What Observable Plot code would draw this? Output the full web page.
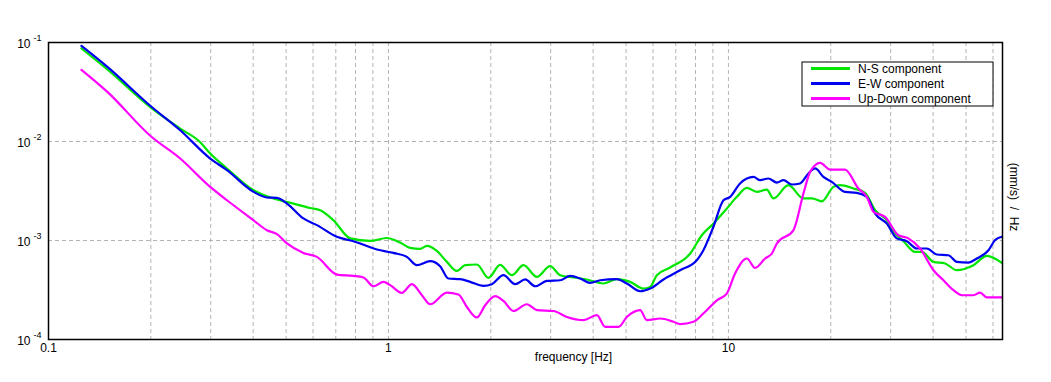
<!DOCTYPE html>
<html><head><meta charset="utf-8">
<script src="https://cdn.jsdelivr.net/npm/d3@7"></script>
<script src="https://cdn.jsdelivr.net/npm/@observablehq/plot@0.6"></script>
<style>body{margin:0;background:#fff;overflow:hidden;} svg{display:block;}</style>
</head><body><div id="chart"></div>
<script>
const nsFreq = [0.125,0.149,0.2,0.244,0.279,0.299,0.335,0.401,0.459,0.526,0.588,0.63,0.689,0.772,0.884,0.989,1.082,1.158,1.239,1.297,1.388,1.485,1.589,1.681,1.82,1.968,2.131,2.307,2.495,2.733,2.989,3.199,3.5,3.833,4.29,4.697,5.14,5.623,5.886,6.157,6.74,7.72,8.35,9.03,9.89,10.59,11.33,12.12,12.97,13.56,15.01,16.62,17.59,18.82,20.37,21.31,23.32,25.24,27.01,29.24,30.92,32.71,35.41,37.06,40.09,43.39,46.97,52.55,57.54,63.7];
const nsVal = [0.087,0.0534,0.022,0.0135,0.0099,0.00756,0.00534,0.00322,0.00266,0.00236,0.00213,0.00202,0.0016,0.00105,0.00099,0.00106,0.000954,0.000842,0.000823,0.000882,0.000785,0.000608,0.000493,0.000563,0.000572,0.000419,0.000567,0.000446,0.000563,0.000429,0.00055,0.000446,0.000423,0.000404,0.000368,0.000407,0.000382,0.000327,0.00034,0.000446,0.000534,0.000739,0.00113,0.00148,0.0021,0.00276,0.0034,0.0031,0.00327,0.00266,0.00362,0.00266,0.00266,0.00249,0.00348,0.00362,0.00335,0.00303,0.00202,0.0016,0.00118,0.000984,0.000767,0.000767,0.000608,0.000586,0.000501,0.000563,0.000699,0.000594];

const ewFreq = [0.125,0.149,0.2,0.244,0.299,0.335,0.401,0.439,0.47,0.503,0.562,0.616,0.705,0.789,0.925,1.034,1.133,1.212,1.326,1.419,1.501,1.625,1.739,1.903,2.014,2.179,2.359,2.524,2.701,2.924,3.199,3.423,3.664,3.92,4.195,4.697,5.026,5.5,5.886,6.44,7.21,8.07,8.44,9.03,9.67,10.12,10.82,11.85,12.4,13.11,13.88,14.52,15.37,16.25,17.19,17.99,19.03,20.14,22.03,23.85,25.53,27.01,29.24,31.28,33.47,35.83,38.33,41.02,44.37,46.97,50.8,53.8,58.2,60.9,63.7];
const ewVal = [0.0924,0.0567,0.0227,0.013,0.00673,0.00513,0.0031,0.00272,0.00269,0.00236,0.00167,0.00143,0.00109,0.000984,0.000811,0.000749,0.000683,0.000563,0.000618,0.00055,0.000413,0.000407,0.000382,0.000348,0.000362,0.000446,0.000362,0.000404,0.000345,0.000391,0.000397,0.000439,0.000413,0.000373,0.000397,0.000407,0.000368,0.000307,0.000327,0.000404,0.000501,0.000632,0.000798,0.00137,0.00255,0.00276,0.00377,0.00439,0.00407,0.00423,0.00385,0.00407,0.00368,0.00377,0.00475,0.00534,0.00439,0.00391,0.0031,0.00303,0.00276,0.00187,0.00148,0.00105,0.000984,0.00083,0.00083,0.000722,0.00071,0.000608,0.000599,0.000658,0.000798,0.00101,0.00109];

const udFreq = [0.125,0.149,0.2,0.244,0.299,0.335,0.401,0.439,0.47,0.503,0.562,0.616,0.705,0.789,0.844,0.903,0.967,1.012,1.095,1.172,1.254,1.326,1.485,1.606,1.701,1.82,1.925,2.06,2.179,2.332,2.553,2.733,3.057,3.347,3.746,4.102,4.34,4.75,5.026,5.5,5.754,6.3,6.89,7.21,7.89,8.44,9.25,9.89,10.46,11.33,11.98,12.82,13.42,13.88,15.53,16.62,17.39,18.61,19.91,22.03,24.12,25.53,26.7,28.9,31.62,33.83,36.62,40.09,42.9,45.9,48.6,52.55,55.0,57.54,63.7];
const udVal = [0.0529,0.0317,0.0113,0.00673,0.00348,0.00255,0.0016,0.00127,0.00116,0.000933,0.000749,0.000683,0.000453,0.000439,0.000423,0.000345,0.000382,0.000354,0.000296,0.000362,0.00028,0.000227,0.000298,0.000285,0.000213,0.000167,0.000222,0.000274,0.000245,0.000194,0.000227,0.000198,0.000194,0.000169,0.000157,0.000176,0.000134,0.000134,0.000169,0.000198,0.000157,0.000163,0.000151,0.000143,0.000151,0.000183,0.000249,0.000291,0.000464,0.000658,0.000529,0.000658,0.000739,0.000933,0.00127,0.00298,0.00493,0.00608,0.00521,0.00521,0.00335,0.00276,0.00195,0.00173,0.00113,0.00105,0.00083,0.000501,0.000397,0.000315,0.00028,0.00028,0.000298,0.000266,0.000266];

const seriesNames = ["N-S component", "E-W component", "Up-Down component"];
const seriesColors = ["#00e600", "#0000f0", "#ff00ff"];

const xGrid = [0.2,0.3,0.4,0.5,0.6,0.7,0.8,0.9,1,2,3,4,5,6,7,8,9,10,20,30,40,50,60];
const yGrid = [0.01, 0.001];
const xTicks = [0.1, 1, 10];
const xTickLabels = ["0.1", "1", "10"];
const yTicks = [0.1, 0.01, 0.001, 0.0001];
const yTickBase = ["10", "10", "10", "10"];
const yTickExp = ["-1", "-2", "-3", "-4"];
const xLabel = "frequency [Hz]";
const yLabel = "(mm/s)\u00a0\u00a0/\u00a0\u00a0Hz";

const allFreq = [nsFreq, ewFreq, udFreq];
const allVal = [nsVal, ewVal, udVal];
const rows = seriesNames.flatMap((name, k) => allFreq[k].map((f, i) => ({f, v: allVal[k][i], name})));

const font = "'Liberation Sans', Arial, sans-serif";
const gridStyle = {stroke: "#b4b4b4", strokeDasharray: "4,3", strokeWidth: 1};

const plot = Plot.plot({
  width: 1051, height: 382,
  marginLeft: 48, marginRight: 49, marginTop: 42, marginBottom: 43,
  x: {type: "log", domain: [0.1, 64], axis: null},
  y: {type: "log", domain: [0.0001, 0.1], axis: null},
  color: {domain: seriesNames, range: seriesColors},
  style: {fontFamily: font, fontSize: "12px", color: "#000", background: "#fff"},
  marks: [
    Plot.ruleX(xGrid, {x: d => d, ...gridStyle}),
    Plot.ruleY(yGrid, {y: d => d, ...gridStyle}),
    Plot.line(rows, {x: "f", y: "v", z: "name", stroke: "name", strokeWidth: 2.2, curve: "monotone-x"}),
    Plot.frame({stroke: "#000", strokeWidth: 1.5}),
    Plot.text(xTicks, {x: d => d, text: (d, i) => xTickLabels[i], frameAnchor: "bottom", dy: 12, fill: "#000"}),
    Plot.text(yTicks, {y: d => d, text: (d, i) => yTickBase[i], frameAnchor: "left", textAnchor: "end", dx: -18, dy: 2, fill: "#000"}),
    Plot.text(yTicks, {y: d => d, text: (d, i) => yTickExp[i], frameAnchor: "left", textAnchor: "start", dx: -15, dy: -4, fontSize: 9, fill: "#000"}),
    Plot.text([xLabel], {frameAnchor: "bottom", dx: 48, dy: 21, fill: "#000"}),
    Plot.text([yLabel], {frameAnchor: "right", textAnchor: "middle", dx: 11, dy: 6, rotate: 90, fill: "#000"})
  ]
});

// Legend
const svg = d3.select(plot);
const lg = svg.append("g").attr("transform", "translate(802,62)")
  .attr("font-family", font).attr("font-size", 12).attr("text-anchor", "start");
lg.append("rect").attr("x", 0).attr("y", 0).attr("width", 191).attr("height", 44)
  .attr("fill", "#fff").attr("stroke", "#000").attr("stroke-width", 1);
seriesNames.forEach((name, i) => {
  const yy = 6.5 + i * 15;
  lg.append("line").attr("x1", 9).attr("x2", 48).attr("y1", yy).attr("y2", yy)
    .attr("stroke", seriesColors[i]).attr("stroke-width", 3);
  lg.append("text").attr("x", 56).attr("y", yy).attr("dy", "0.35em")
    .attr("text-anchor", "start").attr("fill", "#000").text(name);
});

document.getElementById("chart").appendChild(plot);
</script>
</body></html>
